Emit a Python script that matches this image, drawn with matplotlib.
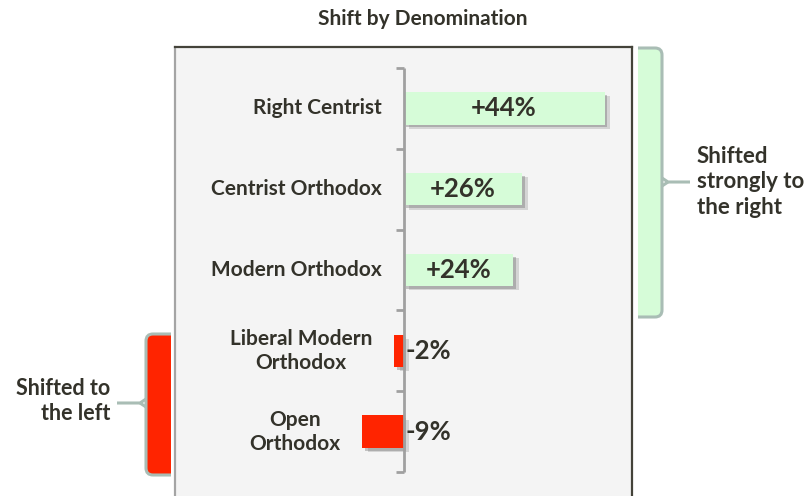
import matplotlib
matplotlib.use("Agg")
import matplotlib.pyplot as plt
import matplotlib.patheffects as pe
from matplotlib.path import Path
from matplotlib.patches import PathPatch

plt.rcParams['font.family'] = ['Lato', 'DejaVu Sans']

# Shift in position by denomination (percent)
denominations = ["Right Centrist", "Centrist Orthodox", "Modern Orthodox",
                 "Liberal Modern\nOrthodox", "Open\nOrthodox"]
shifts = [44, 26, 24, -2, -9]
value_labels = ["+44%", "+26%", "+24%", "-2%", "-9%"]

GREEN = "#d6fcd8"
RED = "#ff2400"
TEXT = "#33322a"
BRACKET_EDGE = "#a9bdb5"

W, H = 810, 496
fig = plt.figure(figsize=(W / 100, H / 100), dpi=100)
fig.patch.set_facecolor("white")

# Overlay in pixel coordinates for the brackets and side notes
over = fig.add_axes([0, 0, 1, 1], zorder=0)
over.set_xlim(0, W)
over.set_ylim(H, 0)
over.axis("off")

# Main panel
ax = fig.add_axes([175 / W, 1 - 510 / H, 457 / W, 463 / H], zorder=1)
ax.set_facecolor("#f4f4f4")
ax.set_xlim(-50, 50)
ax.set_ylim(4.97, -0.76)
for side in ["top", "right", "bottom"]:
    ax.spines[side].set_color("#44433a")
    ax.spines[side].set_linewidth(1.6)
ax.spines["left"].set_color("#a4a4a4")
ax.spines["left"].set_linewidth(1.6)
ax.set_xticks([])
ax.set_yticks([])

ypos = list(range(len(denominations)))
colors = [GREEN if v > 0 else RED for v in shifts]
bars = ax.barh(ypos, shifts, height=0.4, color=colors, zorder=3)
shadow = [pe.SimplePatchShadow(offset=(4, -3), shadow_rgbFace="#777777", alpha=0.25),
          pe.SimplePatchShadow(offset=(2, -2), shadow_rgbFace="#666666", alpha=0.35),
          pe.Normal()]
for b in bars:
    b.set_path_effects(shadow)

# Category axis line with boundary ticks
top, bottom = -0.5, len(denominations) - 0.5
ax.plot([0, 0], [top, bottom], color="#a0a0a0", lw=2, zorder=4,
        solid_capstyle="butt")
for k in range(len(denominations) + 1):
    ax.plot([-1.7, 0], [k - 0.5, k - 0.5], color="#a0a0a0", lw=2, zorder=4,
            solid_capstyle="butt")

for y, name, v, lab in zip(ypos, denominations, shifts, value_labels):
    ax.text(min(v, 0) - 4.8, y, name, ha="right", va="center",
            multialignment="center", fontsize=15, fontweight="bold",
            color=TEXT, linespacing=1.25, zorder=5)
    if v > 0:
        ax.text(v / 2, y, lab, ha="center", va="center", fontsize=18.5,
                fontweight="bold", color=TEXT, zorder=5)
    else:
        ax.text(0.4, y, lab, ha="left", va="center", fontsize=18.5,
                fontweight="bold", color=TEXT, zorder=5)

fig.text(423 / W, 1 - 19 / H, "Shift by Denomination", ha="center",
         va="center", fontsize=15, fontweight="bold", color=TEXT)


def bracket(x_open, x_edge, y0, y1, y_tip, x_tip, face, r=7):
    # Filled brace-like bracket, open on the panel side, with a pointer
    s = 1 if x_edge > x_open else -1
    verts = [(x_open, y0), (x_edge - s * r, y0), (x_edge, y0),
             (x_edge, y0 + r), (x_edge, y1 - r), (x_edge, y1),
             (x_edge - s * r, y1), (x_open, y1)]
    codes = [Path.MOVETO, Path.LINETO, Path.CURVE3, Path.CURVE3,
             Path.LINETO, Path.CURVE3, Path.CURVE3, Path.LINETO]
    fill = Path(verts + [(x_open, y0)], codes + [Path.CLOSEPOLY])
    over.add_patch(PathPatch(fill, facecolor=face, edgecolor="none"))
    over.add_patch(PathPatch(Path(verts, codes), facecolor="none",
                             edgecolor=BRACKET_EDGE, lw=2.2, capstyle="butt"))
    over.plot([x_edge, x_edge + s * 6, x_tip], [y_tip - 4, y_tip, y_tip],
              color=BRACKET_EDGE, lw=2.2, solid_capstyle="butt")
    over.plot([x_edge, x_edge + s * 6], [y_tip + 4, y_tip],
              color=BRACKET_EDGE, lw=2.2, solid_capstyle="butt")


bracket(638, 662, 48, 317, 182, 690, GREEN)
bracket(171, 146, 334, 475, 403, 117, RED)

over.text(697, 182, "Shifted\nstrongly to\nthe right", ha="left", va="center",
          fontsize=16, fontweight="bold", color=TEXT, linespacing=1.25)
over.text(110, 401, "Shifted to\nthe left", ha="right", va="center",
          fontsize=15.5, fontweight="bold", color=TEXT, linespacing=1.25)

fig.savefig("out.png", dpi=100)
